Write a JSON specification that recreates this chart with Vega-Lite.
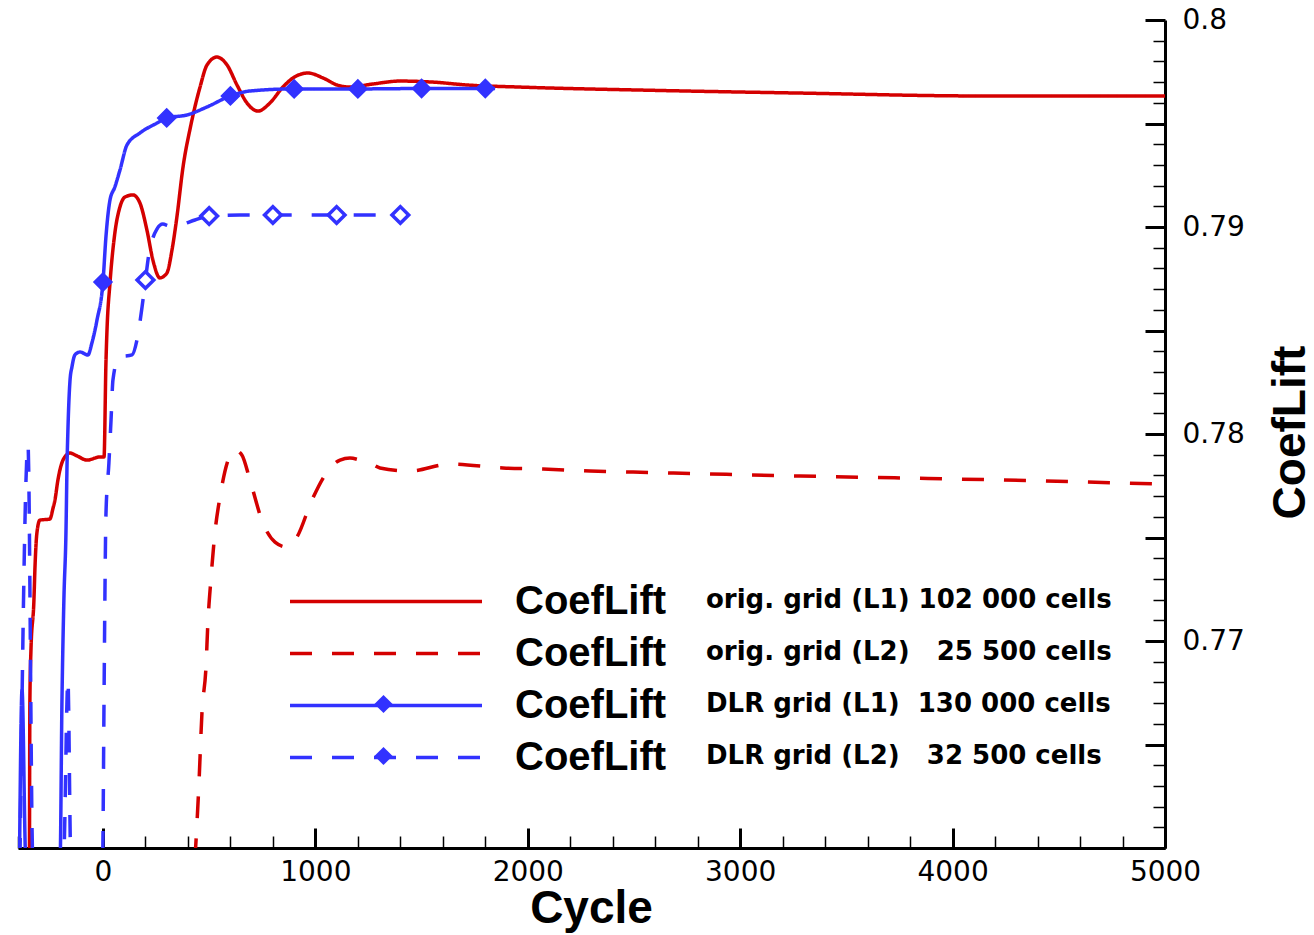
{
  "$schema": "https://vega.github.io/schema/vega-lite/v6.json",
  "width": 1147,
  "height": 828,
  "autosize": {"type": "none"},
  "padding": {"left": 18, "top": 20, "right": 149, "bottom": 87},
  "background": "white",
  "config": {
    "view": {"stroke": null},
    "legend": {"padding": 0, "labelColor": "black", "labelLimit": 0, "symbolLimit": 0, "titlePadding": 0}
  },
  "datasets": {
    "lines": [
      {"s": "oL1", "x": -346, "y": 0.75942}, {"s": "oL1", "x": -344, "y": 0.76715}, {"s": "oL1", "x": -339, "y": 0.76956},
      {"s": "oL1", "x": -325, "y": 0.77198}, {"s": "oL1", "x": -320, "y": 0.77357}, {"s": "oL1", "x": -311, "y": 0.77522},
      {"s": "oL1", "x": -297, "y": 0.77584}, {"s": "oL1", "x": -250, "y": 0.77589}, {"s": "oL1", "x": -235, "y": 0.77642},
      {"s": "oL1", "x": -226, "y": 0.77681}, {"s": "oL1", "x": -212, "y": 0.77778}, {"s": "oL1", "x": -188, "y": 0.77874},
      {"s": "oL1", "x": -155, "y": 0.77908}, {"s": "oL1", "x": -122, "y": 0.77894}, {"s": "oL1", "x": -75, "y": 0.77874},
      {"s": "oL1", "x": -14, "y": 0.77889}, {"s": "oL1", "x": 5, "y": 0.77889}, {"s": "oL1", "x": 14, "y": 0.78343},
      {"s": "oL1", "x": 19, "y": 0.78502}, {"s": "oL1", "x": 33, "y": 0.78729}, {"s": "oL1", "x": 56, "y": 0.78971},
      {"s": "oL1", "x": 80, "y": 0.79097}, {"s": "oL1", "x": 104, "y": 0.79145}, {"s": "oL1", "x": 141, "y": 0.79155},
      {"s": "oL1", "x": 174, "y": 0.79116}, {"s": "oL1", "x": 207, "y": 0.78985}, {"s": "oL1", "x": 235, "y": 0.78841},
      {"s": "oL1", "x": 268, "y": 0.78754}, {"s": "oL1", "x": 301, "y": 0.78778}, {"s": "oL1", "x": 325, "y": 0.78889},
      {"s": "oL1", "x": 348, "y": 0.79048}, {"s": "oL1", "x": 377, "y": 0.7929}, {"s": "oL1", "x": 414, "y": 0.79493},
      {"s": "oL1", "x": 457, "y": 0.79676}, {"s": "oL1", "x": 490, "y": 0.79783}, {"s": "oL1", "x": 537, "y": 0.79821},
      {"s": "oL1", "x": 584, "y": 0.79783}, {"s": "oL1", "x": 631, "y": 0.79686}, {"s": "oL1", "x": 678, "y": 0.79599},
      {"s": "oL1", "x": 730, "y": 0.7956}, {"s": "oL1", "x": 786, "y": 0.79599}, {"s": "oL1", "x": 847, "y": 0.79676},
      {"s": "oL1", "x": 895, "y": 0.7972}, {"s": "oL1", "x": 965, "y": 0.79744}, {"s": "oL1", "x": 1036, "y": 0.7972},
      {"s": "oL1", "x": 1102, "y": 0.79686}, {"s": "oL1", "x": 1163, "y": 0.79676}, {"s": "oL1", "x": 1271, "y": 0.79691},
      {"s": "oL1", "x": 1398, "y": 0.79705}, {"s": "oL1", "x": 1554, "y": 0.797}, {"s": "oL1", "x": 1714, "y": 0.79686},
      {"s": "oL1", "x": 1963, "y": 0.79676}, {"s": "oL1", "x": 2600, "y": 0.7966}, {"s": "oL1", "x": 3282, "y": 0.79647},
      {"s": "oL1", "x": 4143, "y": 0.79633}, {"s": "oL1", "x": 5000, "y": 0.79633},

      {"s": "oL2", "x": 433, "y": 0.75942}, {"s": "oL2", "x": 452, "y": 0.76314}, {"s": "oL2", "x": 466, "y": 0.76652},
      {"s": "oL2", "x": 485, "y": 0.76874}, {"s": "oL2", "x": 494, "y": 0.77087}, {"s": "oL2", "x": 508, "y": 0.77295},
      {"s": "oL2", "x": 527, "y": 0.77522}, {"s": "oL2", "x": 551, "y": 0.77696}, {"s": "oL2", "x": 589, "y": 0.77874},
      {"s": "oL2", "x": 621, "y": 0.77923}, {"s": "oL2", "x": 654, "y": 0.77899}, {"s": "oL2", "x": 692, "y": 0.77778},
      {"s": "oL2", "x": 753, "y": 0.7757}, {"s": "oL2", "x": 810, "y": 0.77478}, {"s": "oL2", "x": 866, "y": 0.77454},
      {"s": "oL2", "x": 913, "y": 0.77502}, {"s": "oL2", "x": 984, "y": 0.77681}, {"s": "oL2", "x": 1055, "y": 0.77816},
      {"s": "oL2", "x": 1116, "y": 0.77874}, {"s": "oL2", "x": 1163, "y": 0.77884}, {"s": "oL2", "x": 1210, "y": 0.77874},
      {"s": "oL2", "x": 1257, "y": 0.7786}, {"s": "oL2", "x": 1304, "y": 0.77836}, {"s": "oL2", "x": 1445, "y": 0.77821},
      {"s": "oL2", "x": 1634, "y": 0.77855}, {"s": "oL2", "x": 1883, "y": 0.77836}, {"s": "oL2", "x": 2072, "y": 0.77831},
      {"s": "oL2", "x": 2293, "y": 0.77821}, {"s": "oL2", "x": 2496, "y": 0.77816}, {"s": "oL2", "x": 3282, "y": 0.77797},
      {"s": "oL2", "x": 4223, "y": 0.77778}, {"s": "oL2", "x": 5000, "y": 0.77758},

      {"s": "dL1", "x": -393, "y": 0.75942}, {"s": "dL1", "x": -381, "y": 0.76763}, {"s": "dL1", "x": -363, "y": 0.75942},
      {"s": "dL1", "x": -202, "y": 0.75942}, {"s": "dL1", "x": -193, "y": 0.76715}, {"s": "dL1", "x": -184, "y": 0.77198},
      {"s": "dL1", "x": -174, "y": 0.77536}, {"s": "dL1", "x": -169, "y": 0.7786}, {"s": "dL1", "x": -165, "y": 0.78019},
      {"s": "dL1", "x": -155, "y": 0.78261}, {"s": "dL1", "x": -146, "y": 0.78324}, {"s": "dL1", "x": -132, "y": 0.78382},
      {"s": "dL1", "x": -108, "y": 0.78396}, {"s": "dL1", "x": -71, "y": 0.78382}, {"s": "dL1", "x": -52, "y": 0.7844},
      {"s": "dL1", "x": -28, "y": 0.78551}, {"s": "dL1", "x": 0, "y": 0.78734}, {"s": "dL1", "x": 14, "y": 0.78952},
      {"s": "dL1", "x": 33, "y": 0.7913}, {"s": "dL1", "x": 56, "y": 0.79193}, {"s": "dL1", "x": 80, "y": 0.79275},
      {"s": "dL1", "x": 113, "y": 0.79396}, {"s": "dL1", "x": 174, "y": 0.79454}, {"s": "dL1", "x": 254, "y": 0.79502},
      {"s": "dL1", "x": 300, "y": 0.79527}, {"s": "dL1", "x": 395, "y": 0.79541}, {"s": "dL1", "x": 490, "y": 0.7958},
      {"s": "dL1", "x": 600, "y": 0.79633}, {"s": "dL1", "x": 692, "y": 0.79657}, {"s": "dL1", "x": 900, "y": 0.79667},
      {"s": "dL1", "x": 1200, "y": 0.79667}, {"s": "dL1", "x": 1500, "y": 0.79669}, {"s": "dL1", "x": 1800, "y": 0.79669},
      {"s": "dL1", "x": 1846, "y": 0.79669},

      {"s": "dL2", "x": -391, "y": 0.75942}, {"s": "dL2", "x": -353, "y": 0.77947}, {"s": "dL2", "x": -330, "y": 0.75942},
      {"s": "dL2", "x": -186, "y": 0.75942}, {"s": "dL2", "x": -165, "y": 0.76812}, {"s": "dL2", "x": -151, "y": 0.75942},
      {"s": "dL2", "x": -2, "y": 0.75942}, {"s": "dL2", "x": 5, "y": 0.76715}, {"s": "dL2", "x": 9, "y": 0.77198},
      {"s": "dL2", "x": 14, "y": 0.77609}, {"s": "dL2", "x": 28, "y": 0.7786}, {"s": "dL2", "x": 38, "y": 0.78068},
      {"s": "dL2", "x": 47, "y": 0.78261}, {"s": "dL2", "x": 75, "y": 0.78372}, {"s": "dL2", "x": 137, "y": 0.78382},
      {"s": "dL2", "x": 160, "y": 0.78454}, {"s": "dL2", "x": 184, "y": 0.78613}, {"s": "dL2", "x": 200, "y": 0.78744},
      {"s": "dL2", "x": 217, "y": 0.78874}, {"s": "dL2", "x": 235, "y": 0.78947}, {"s": "dL2", "x": 254, "y": 0.7899},
      {"s": "dL2", "x": 282, "y": 0.79014}, {"s": "dL2", "x": 315, "y": 0.79005}, {"s": "dL2", "x": 363, "y": 0.7901},
      {"s": "dL2", "x": 433, "y": 0.79034}, {"s": "dL2", "x": 500, "y": 0.79053}, {"s": "dL2", "x": 645, "y": 0.79058},
      {"s": "dL2", "x": 800, "y": 0.79058}, {"s": "dL2", "x": 1100, "y": 0.79058}, {"s": "dL2", "x": 1400, "y": 0.79058},
      {"s": "dL2", "x": 1410, "y": 0.79058}
    ],
    "markers": [
      {"desc": "DLR grid (L1)\u00a0 130 000 cells", "x": 0, "y": 0.78734},
      {"desc": "DLR grid (L1)\u00a0 130 000 cells", "x": 300, "y": 0.79527},
      {"desc": "DLR grid (L1)\u00a0 130 000 cells", "x": 600, "y": 0.79633},
      {"desc": "DLR grid (L1)\u00a0 130 000 cells", "x": 900, "y": 0.79667},
      {"desc": "DLR grid (L1)\u00a0 130 000 cells", "x": 1200, "y": 0.79667},
      {"desc": "DLR grid (L1)\u00a0 130 000 cells", "x": 1500, "y": 0.79669},
      {"desc": "DLR grid (L1)\u00a0 130 000 cells", "x": 1800, "y": 0.79669},
      {"desc": "DLR grid (L2)\u00a0\u00a0 32 500 cells", "x": 200, "y": 0.78744},
      {"desc": "DLR grid (L2)\u00a0\u00a0 32 500 cells", "x": 500, "y": 0.79053},
      {"desc": "DLR grid (L2)\u00a0\u00a0 32 500 cells", "x": 800, "y": 0.79058},
      {"desc": "DLR grid (L2)\u00a0\u00a0 32 500 cells", "x": 1100, "y": 0.79058},
      {"desc": "DLR grid (L2)\u00a0\u00a0 32 500 cells", "x": 1400, "y": 0.79058}
    ]
  },
  "encoding": {
    "x": {
      "field": "x", "type": "quantitative",
      "scale": {"domain": [-400, 5000], "nice": false, "zero": false},
      "axis": {
        "orient": "bottom",
        "values": [-400,-200,0,200,400,600,800,1000,1200,1400,1600,1800,2000,2200,2400,2600,2800,3000,3200,3400,3600,3800,4000,4200,4400,4600,4800,5000],
        "labelExpr": "datum.value >= 0 && datum.value % 1000 == 0 ? format(datum.value, 'd') : ''",
        "tickSize": {"condition": {"test": "datum.value % 1000 == 0", "value": -20}, "value": -12},
        "tickWidth": {"condition": {"test": "datum.value % 1000 == 0", "value": 3}, "value": 1.5},
        "tickColor": "black",
        "domainColor": "black", "domainWidth": 3,
        "grid": false,
        "labelFont": "DejaVu Sans", "labelFontSize": 28, "labelColor": "black",
        "labelPadding": 30, "labelFlush": false, "labelOverlap": false, "labelBound": false,
        "title": "Cycle", "titleFont": "Liberation Sans", "titleFontSize": 46, "titleFontWeight": "bold", "titleColor": "black",
        "titleX": 573, "titleY": 74, "titleAlign": "center", "titleBaseline": "alphabetic", "titleAnchor": null
      }
    },
    "y": {
      "field": "y", "type": "quantitative",
      "scale": {"domain": [0.76, 0.8], "nice": false, "zero": false},
      "axis": {
        "orient": "right",
        "values": [0.76,0.761,0.762,0.763,0.764,0.765,0.766,0.767,0.768,0.769,0.77,0.771,0.772,0.773,0.774,0.775,0.776,0.777,0.778,0.779,0.78,0.781,0.782,0.783,0.784,0.785,0.786,0.787,0.788,0.789,0.79,0.791,0.792,0.793,0.794,0.795,0.796,0.797,0.798,0.799,0.8],
        "labelExpr": "abs(datum.value*100 - round(datum.value*100)) < 1e-6 && datum.value > 0.765 ? format(datum.value, '.2~f') : ''",
        "tickSize": {"condition": {"test": "abs(datum.value*200 - round(datum.value*200)) < 1e-6", "value": -20}, "value": -12},
        "tickWidth": {"condition": {"test": "abs(datum.value*200 - round(datum.value*200)) < 1e-6", "value": 3}, "value": 1.5},
        "tickColor": "black",
        "domainColor": "black", "domainWidth": 3,
        "grid": false,
        "labelFont": "DejaVu Sans", "labelFontSize": 28, "labelColor": "black",
        "labelPadding": 37, "labelFlush": false, "labelOverlap": false, "labelBound": false, "labelAlign": "left", "labelBaseline": "middle",
        "title": "CoefLift", "titleFont": "Liberation Sans", "titleFontSize": 46, "titleFontWeight": "bold", "titleColor": "black",
        "titleAngle": 270, "titleX": 125, "titleY": 412, "titleAlign": "center", "titleBaseline": "middle", "titleAnchor": null
      }
    }
  },
  "layer": [
    {
      "data": {"name": "lines"},
      "mark": {"type": "line", "strokeWidth": 3.5, "clip": true, "interpolate": "monotone"},
      "encoding": {
        "color": {
          "field": "s", "type": "nominal",
          "scale": {"domain": ["oL1", "oL2", "dL1", "dL2"], "range": ["#d40000", "#d40000", "#3232ff", "#3232ff"]},
          "legend": {"title": null, "orient": "none", "legendX": 348, "legendY": 561.5, "symbolType": "M-8,0H8", "symbolSize": 576, "symbolStrokeWidth": 3.5, "labelExpr": "'CoefLift'", "labelFont": "Liberation Sans", "labelFontSize": 40, "labelFontWeight": "bold", "labelOffset": 109, "rowPadding": 12}
        },
        "strokeDash": {
          "field": "s", "type": "nominal",
          "scale": {"domain": ["oL1", "oL2", "dL1", "dL2"], "range": [[1, 0], [22, 20], [1, 0], [22, 20]]},
          "legend": {"title": null, "orient": "none", "legendX": 348, "legendY": 561.5, "symbolType": "M-8,0H8", "symbolSize": 576, "symbolStrokeWidth": 3.5, "labelExpr": "'CoefLift'", "labelFont": "Liberation Sans", "labelFontSize": 40, "labelFontWeight": "bold", "labelOffset": 109, "rowPadding": 12}
        }
      }
    },
    {
      "data": {"name": "markers"},
      "transform": [{"filter": "datum.desc == 'DLR grid (L1)\u00a0 130 000 cells'"}],
      "mark": {"type": "point", "filled": true, "fill": "#3232ff", "stroke": "#3232ff", "strokeWidth": 1.5, "size": 330, "opacity": 1, "clip": true},
      "encoding": {
        "shape": {
          "field": "desc", "type": "nominal",
          "scale": {"domain": ["orig. grid (L1) 102 000 cells", "orig. grid (L2)\u00a0\u00a0 25 500 cells", "DLR grid (L1)\u00a0 130 000 cells", "DLR grid (L2)\u00a0\u00a0 32 500 cells"], "range": ["M0,0", "M0,0", "diamond", "diamond"]},
          "legend": {"title": null, "orient": "none", "legendX": 352.5, "legendY": 567, "symbolSize": 330, "symbolStrokeWidth": 1.5, "symbolFillColor": "#3232ff", "symbolStrokeColor": "#3232ff", "labelFont": "DejaVu Sans", "labelFontSize": 26, "labelFontWeight": "bold", "labelOffset": 309.5, "rowPadding": 26}
        }
      }
    },
    {
      "data": {"name": "markers"},
      "transform": [{"filter": "datum.desc == 'DLR grid (L2)\u00a0\u00a0 32 500 cells'"}],
      "mark": {"type": "point", "filled": true, "fill": "white", "stroke": "#3232ff", "strokeWidth": 3.5, "size": 280, "opacity": 1, "clip": true},
      "encoding": {
        "shape": {
          "field": "desc", "type": "nominal",
          "scale": {"domain": ["orig. grid (L1) 102 000 cells", "orig. grid (L2)\u00a0\u00a0 25 500 cells", "DLR grid (L1)\u00a0 130 000 cells", "DLR grid (L2)\u00a0\u00a0 32 500 cells"], "range": ["M0,0", "M0,0", "diamond", "diamond"]},
          "legend": {"title": null, "orient": "none", "legendX": 352.5, "legendY": 567, "symbolSize": 330, "symbolStrokeWidth": 1.5, "symbolFillColor": "#3232ff", "symbolStrokeColor": "#3232ff", "labelFont": "DejaVu Sans", "labelFontSize": 26, "labelFontWeight": "bold", "labelOffset": 309.5, "rowPadding": 26}
        }
      }
    }
  ]
}
